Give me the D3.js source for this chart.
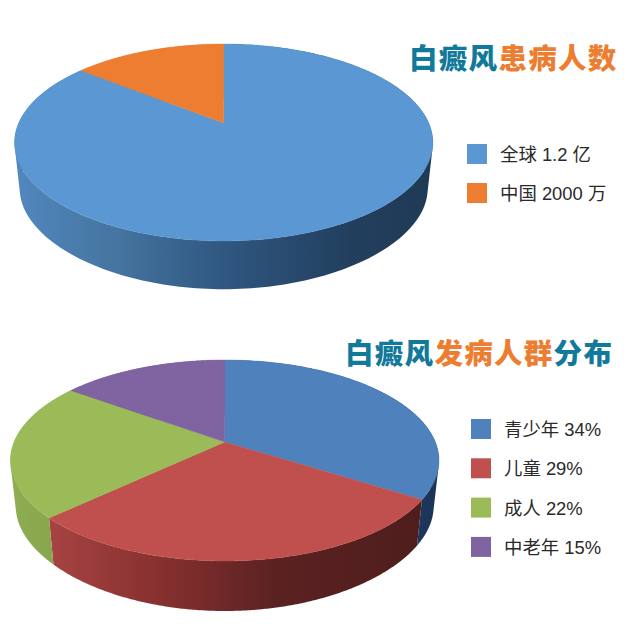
<!DOCTYPE html>
<html><head><meta charset="utf-8">
<script src="https://cdn.jsdelivr.net/npm/d3@7/dist/d3.min.js"></script>
<style>html,body{margin:0;padding:0;background:#fff}svg{display:block}</style>
</head><body><svg id="c" width="640" height="634"></svg>
<script>
const cases1 = ["全球 1.2 亿","中国 2000 万"];
const values1 = [12000,2000];
const colors1 = ["#5b97d3","#ed7d31"];
const wall1 = [[["0","#5288bf"],["0.25","#44749f"],["0.5","#2f5780"],["0.8","#223f5e"],["1","#1f3a55"]],
               [["0","#ed7d31"],["1","#ed7d31"]]];
const cases2 = ["青少年 34%","儿童 29%","成人 22%","中老年 15%"];
const values2 = [34,29,22,15];
const colors2 = ["#4f81bd","#c0504d","#9bbb59","#8064a2"];
const wall2 = [[["0","#1f3a62"],["1","#1c3358"]],
               [["0","#a54342"],["0.3","#86302f"],["0.6","#5c2222"],["1","#4f1d1d"]],
               [["0","#8fae52"],["1","#86a44c"]],
               [["0","#6b5288"],["1","#6b5288"]]];
const title1 = [["白癜风","#11799a"],["患病人数","#ed7d31"]];
const title2 = [["白癜风","#11799a"],["发病人群","#ed7d31"],["分布","#11799a"]];

const svg = d3.select("#c");
const defs = svg.append("defs");
const pie = d3.pie().sort(null).value(d=>d);
const line = d3.line();

function drawPie(id, values, colors, walls, g){
  const top = a=>{
    const u=Math.sin(a), v=-Math.cos(a), w=1-g.k*v;
    return [g.x0+g.S*u/w, g.y0+g.R*v/w];
  };
  const bottom = a=>{
    const u=Math.sin(a), v=-Math.cos(a);
    return [g.x0+g.S*g.shrink*u/(1-g.k*v), g.y0+g.depth+g.R2*v/(1-g.k2*v)];
  };
  const arcs = pie(values);
  const gx = d3.scaleLinear().domain([0,1]).range([g.x0-g.rx, g.x0+g.rx]);
  const samples = (a0,a1)=>d3.range(0,241).map(i=>a0+(a1-a0)*i/240);
  const root = svg.append("g");
  arcs.forEach((d,i)=>{
    const gid=id+"w"+i;
    const lg=defs.append("linearGradient").attr("id",gid).attr("gradientUnits","userSpaceOnUse")
      .attr("x1",gx(g.range[i][0])).attr("x2",gx(g.range[i][1])).attr("y1",0).attr("y2",0);
    lg.selectAll("stop").data(walls[i]).join("stop").attr("offset",s=>s[0]).attr("stop-color",s=>s[1]);
    const as=samples(d.startAngle,d.endAngle);
    const quads=d3.pairs(as).map(([a,b])=>{
      const q=[top(a),top(b),bottom(b),bottom(a)];
      if(d3.polygonArea(q)<0) q.reverse();
      return line(q)+"Z";
    }).join("");
    root.append("path").attr("d",quads).attr("fill",`url(#${gid})`).attr("fill-rule","nonzero");
  });
  arcs.forEach((d,i)=>{
    const pts=[[g.x0,g.y0]].concat(samples(d.startAngle,d.endAngle).map(top));
    root.append("path").attr("d",line(pts)+"Z").attr("fill",colors[i]).attr("stroke",colors[i]).attr("stroke-width",0.4);
  });
}
drawPie("a",values1,colors1,wall1,{x0:223.7,y0:123,k:0.198,S:205,R:94.6,depth:47.5,shrink:0.975,R2:89,k2:0.25,rx:210,range:[[0,1],[0,1]]});
drawPie("b",values2,colors2,wall2,{x0:224.7,y0:442,k:0.184,S:210.6,R:97.1,depth:47,shrink:0.975,R2:91.5,k2:0.25,rx:215,range:[[0.9,1],[0.1,0.95],[0,0.12],[0,1]]});

function drawTitle(parts,x,y){
  const t=svg.append("text").attr("x",x).attr("y",y)
    .attr("font-family","'Noto Sans CJK SC'").attr("font-weight",900)
    .attr("font-size",28.5).attr("letter-spacing",1.3);
  t.selectAll("tspan").data(parts).join("tspan").text(d=>d[0]).attr("fill",d=>d[1]);
}
drawTitle(title1,409,69);
drawTitle(title2,345,364);

function drawLegend(items,colors,x,y0,step,tx){
  const y=d3.scalePoint().domain(items).range([y0,y0+step*(items.length-1)]);
  const g=svg.append("g").selectAll("g").data(items).join("g");
  g.append("rect").attr("x",x).attr("y",d=>y(d)).attr("width",20).attr("height",20).attr("fill",(d,i)=>colors[i]);
  g.append("text").attr("x",tx).attr("y",d=>y(d)+17).text(d=>d)
    .attr("font-family","'Liberation Sans','Noto Sans CJK SC'").attr("font-size",18.4).attr("fill","#2a2a2a");
}
drawLegend(cases1,colors1,467,144,39,500);
drawLegend(cases2,colors2,471,419,39.3,504);
</script></body></html>
